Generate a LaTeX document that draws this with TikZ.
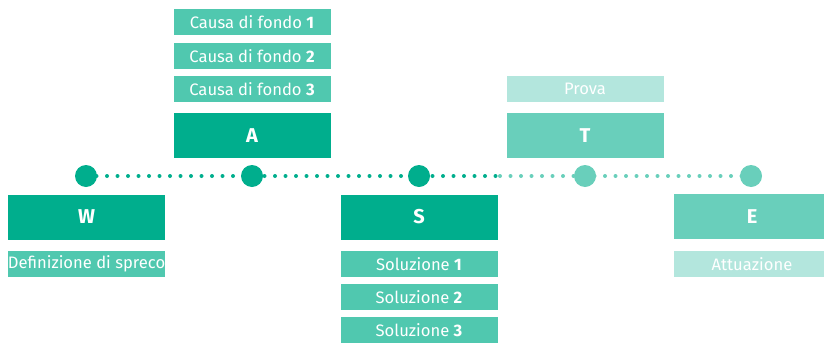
\documentclass[tikz,border=0pt]{standalone}
\usepackage{fontspec}
\setmainfont{Fira Sans}
\usetikzlibrary{backgrounds}
\definecolor{dk}{HTML}{00AE8D}
\definecolor{md}{HTML}{50C8AF}
\definecolor{lt}{HTML}{69CFBB}
\definecolor{pl}{HTML}{B3E6DD}
\begin{document}
\begin{tikzpicture}[x=1pt,y=-1pt,
  box/.style={minimum width=157pt, minimum height=45pt, inner sep=0pt, text=white, font=\fontsize{20}{20}\selectfont\bfseries},
  lbl/.style={minimum width=157pt, minimum height=26pt, inner sep=0pt, text=white, font=\fontsize{16.6}{17}\selectfont},
  dotnode/.style={circle, minimum size=22pt, inner sep=0pt},
  dotline/.style={line width=4pt, line cap=round, dash pattern=on 0pt off 10.5pt}]
\useasboundingbox (0,0) rectangle (824,343);
\clip (0,0) rectangle (824,343);
% circles
\node[dotnode, fill=dk] (c1) at (86,176) {};
\node[dotnode, fill=dk] (c2) at (252,176) {};
\node[dotnode, fill=dk] (c3) at (419,176) {};
\node[dotnode, fill=lt] (c4) at (585,176) {};
\node[dotnode, fill=lt] (c5) at (751,176) {};
\coordinate (sw) at (500,176);
\begin{scope}[on background layer]
\draw[dotline, dk] (c1.center) -- (sw);
\draw[dotline, lt] (sw) -- (c5.center);
\end{scope}
% W
\node[box, fill=dk] (W) at (86.5,217) {W};
\node[lbl, fill=md] (Wd) at (86.5,263.5) {Definizione di spreco};
% A
\node[box, fill=dk] (A) at (252,135.5) {A};
\node[lbl, fill=md] (A3) at (252,89) {Causa di fondo \textbf{3}};
\node[lbl, fill=md] (A2) at (252,56) {Causa di fondo \textbf{2}};
\node[lbl, fill=md] (A1) at (252,22) {Causa di fondo \textbf{1}};
% S
\node[box, fill=dk] (S) at (419,217) {S};
\node[lbl, fill=md] (S1) at (419,264) {Soluzione \textbf{1}};
\node[lbl, fill=md] (S2) at (419,297) {Soluzione \textbf{2}};
\node[lbl, fill=md] (S3) at (419,330) {Soluzione \textbf{3}};
% T
\node[box, fill=lt] (T) at (585,135.5) {T};
\node[lbl, fill=pl] (Tp) at (585,89) {Prova};
% E
\node[box, fill=lt] (E) at (752,216.5) {E};
\node[lbl, fill=pl] (Ea) at (752,264) {Attuazione};
\end{tikzpicture}
\end{document}
